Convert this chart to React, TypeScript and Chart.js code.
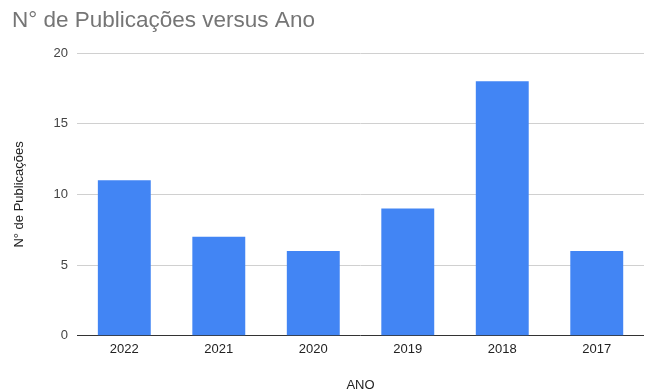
import React, { useEffect, useRef } from "react";
import { Chart, registerables } from "chart.js";

Chart.register(...registerables);

const categories = ["2022", "2021", "2020", "2019", "2018", "2017"];
const publicacoes = [11, 7, 6, 9, 18, 6];
const titleText = "N° de Publicações versus Ano";
const yTitle = "N° de Publicações";
const xTitle = "ANO";

export default function App() {
  const ref = useRef<HTMLCanvasElement>(null);
  useEffect(() => {
    document.body.style.margin = "0";
    const font = "Arial, 'Liberation Sans', sans-serif";
    const chart = new Chart(ref.current!, {
      type: "bar",
      data: {
        labels: categories,
        datasets: [
          {
            label: yTitle,
            data: publicacoes,
            backgroundColor: "#4285F4",
            barPercentage: 0.56,
            categoryPercentage: 1,
          },
        ],
      },
      options: {
        animation: false,
        responsive: false,
        maintainAspectRatio: false,
        layout: { padding: { left: 12, right: 7, top: 4, bottom: -4 } },
        plugins: {
          legend: { display: false },
          tooltip: { enabled: false },
          title: {
            display: true,
            text: titleText,
            align: "start",
            color: "#757575",
            font: { family: font, size: 22.5, weight: "normal" },
            padding: { top: 3, bottom: 19 },
          },
        },
        scales: {
          x: {
            grid: { display: false, drawTicks: false },
            border: { display: false },
            ticks: { color: "#222", font: { family: font, size: 13 }, padding: 6 },
            title: {
              display: true,
              text: xTitle,
              color: "#222",
              font: { family: font, size: 13 },
              padding: { top: 14, bottom: 0 },
            },
          },
          y: {
            min: 0,
            max: 20,
            ticks: { stepSize: 5, color: "#444", font: { family: font, size: 13 }, padding: 9 },
            grid: {
              drawTicks: false,
              color: (ctx: any) => (ctx.tick && ctx.tick.value === 0 ? "#333" : "#d0d0d0"),
              lineWidth: 1,
            },
            border: { display: false },
            title: {
              display: true,
              text: yTitle,
              color: "#222",
              font: { family: font, size: 13 },
              padding: { top: 0, bottom: 17 },
            },
          },
        },
      },
    });
    return () => chart.destroy();
  }, []);
  return <canvas ref={ref} width={651} height={389} style={{ display: "block" }} />;
}
